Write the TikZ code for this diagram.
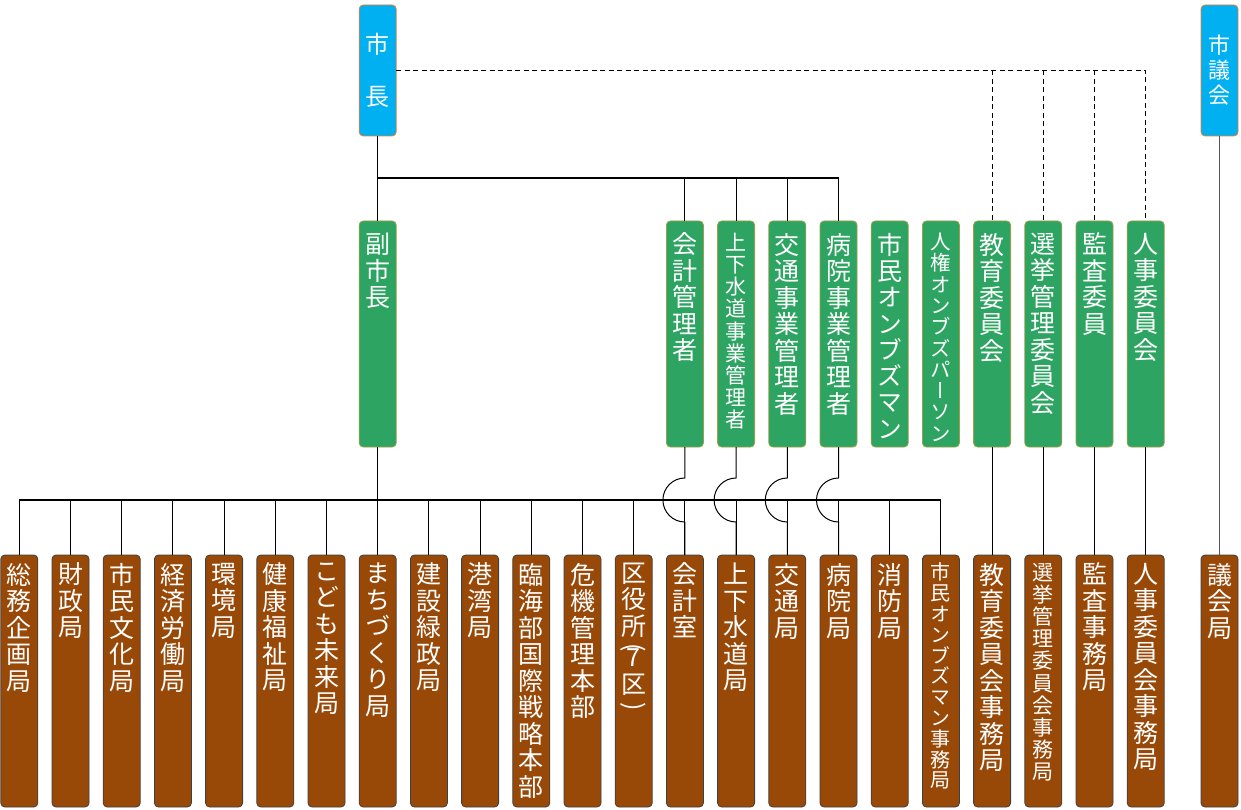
\documentclass[tikz,border=0pt]{standalone}
\usepackage{fontspec}
\usepackage{graphicx}
\setmainfont{Noto Sans CJK JP}[RawFeature=+vert]
\usetikzlibrary{calc}

\definecolor{skyblue}{HTML}{00B0F0}
\definecolor{edgeorange}{HTML}{ED7D31}
\definecolor{officegreen}{HTML}{2EA462}
\definecolor{greenedge}{HTML}{9AA046}
\definecolor{bureaubrown}{HTML}{984807}
\definecolor{bureauedge}{HTML}{404040}
\definecolor{councilgray}{HTML}{555555}

% vertical label: box height, top pad, font size, line pitch, stacked characters
\newcommand\tate[5]{\parbox[c][#1][t]{37pt}{\centering\fontsize{#3}{#4}\selectfont\vspace*{#2}#5\par}}
\newcommand\gtext[3]{\tate{226pt}{12pt}{#1}{#2}{#3}}
\newcommand\btext[3]{\tate{252pt}{8pt}{#1}{#2}{#3}}
\newcommand\ctext[3]{\parbox[c][131pt][c]{37pt}{\centering\fontsize{#1}{#2}\selectfont #3\par}}
\newcommand\vparen[1]{\rotatebox[origin=c]{-90}{#1}}

\tikzset{
  box/.style={inner sep=0pt, outer sep=0pt, rounded corners=4pt, line width=0.8pt, anchor=north, text=white},
  topbox/.style={box, fill=skyblue, draw=edgeorange},
  officer/.style={box, fill=officegreen, draw=greenedge},
  bureau/.style={box, fill=bureaubrown, draw=bureauedge},
  link/.style={line width=1pt, draw=black},
  tree/.style={line width=1.3pt, draw=black},
  busline/.style={line width=1.8pt, draw=black},
  dashlink/.style={line width=1.2pt, draw=black, dash pattern=on 5pt off 3.5pt},
  councillink/.style={line width=1.6pt, draw=councilgray},
}

\begin{document}
\begin{tikzpicture}[x=1pt, y=-1pt]
\useasboundingbox (0,0) rectangle (1241,810);

% top executives
\node[topbox] (mayor)   at (377.7,5) {\ctext{24}{26}{市\\[26pt]長}};
\node[topbox] (council) at (1219.5,5) {\ctext{22}{25}{市\\議\\会}};

% appointed officers and commissions
\node[officer] (vice) at (377.7,221) {\gtext{25}{26.5}{副\\市\\長}};
\node[officer] (g1) at (684.9,221) {\gtext{25}{26.5}{会\\計\\管\\理\\者}};
\node[officer] (g2) at (736.1,221) {\gtext{21}{22.2}{上\\下\\水\\道\\事\\業\\管\\理\\者}};
\node[officer] (g3) at (787.3,221) {\gtext{25}{26.5}{交\\通\\事\\業\\管\\理\\者}};
\node[officer] (g4) at (838.5,221) {\gtext{25}{26.5}{病\\院\\事\\業\\管\\理\\者}};
\node[officer] (g5) at (889.7,221) {\gtext{25}{26.3}{市\\民\\オ\\ン\\ブ\\ズ\\マ\\ン}};
\node[officer] (g6) at (940.9,221) {\gtext{20.5}{21.3}{人\\権\\オ\\ン\\ブ\\ズ\\パ\\ー\\ソ\\ン}};
\node[officer] (g7) at (992.1,221) {\gtext{25}{26.5}{教\\育\\委\\員\\会}};
\node[officer] (g8) at (1043.3,221) {\gtext{25}{26.5}{選\\挙\\管\\理\\委\\員\\会}};
\node[officer] (g9) at (1094.5,221) {\gtext{25}{26.5}{監\\査\\委\\員}};
\node[officer] (g10) at (1145.7,221) {\gtext{25}{26.5}{人\\事\\委\\員\\会}};

% bureaus
\node[bureau] (b1)  at (19.3,555)  {\btext{25}{26.5}{総\\務\\企\\画\\局}};
\node[bureau] (b2)  at (70.5,555)  {\btext{25}{26.5}{財\\政\\局}};
\node[bureau] (b3)  at (121.7,555) {\btext{25}{26.5}{市\\民\\文\\化\\局}};
\node[bureau] (b4)  at (172.9,555) {\btext{25}{26.5}{経\\済\\労\\働\\局}};
\node[bureau] (b5)  at (224.1,555) {\btext{25}{26.5}{環\\境\\局}};
\node[bureau] (b6)  at (275.3,555) {\btext{25}{26.5}{健\\康\\福\\祉\\局}};
\node[bureau] (b7)  at (326.5,555) {\btext{25}{26.5}{こ\\ど\\も\\未\\来\\局}};
\node[bureau] (b8)  at (377.7,555) {\btext{25}{26.5}{ま\\ち\\づ\\く\\り\\局}};
\node[bureau] (b9)  at (428.9,555) {\btext{25}{26.5}{建\\設\\緑\\政\\局}};
\node[bureau] (b10) at (480.1,555) {\btext{25}{26.5}{港\\湾\\局}};
\node[bureau] (b11) at (531.3,555) {\btext{25}{26.5}{臨\\海\\部\\国\\際\\戦\\略\\本\\部}};
\node[bureau] (b12) at (582.5,555) {\btext{25}{26.5}{危\\機\\管\\理\\本\\部}};
\node[bureau] (b13) at (633.7,555) {\btext{25}{26.5}{区\\役\\所\\[-6pt]\vparen{(}\\[-16pt]7\\[1pt]区\\[-6pt]\vparen{)}}};
\node[bureau] (b14) at (684.9,555) {\btext{25}{26.5}{会\\計\\室}};
\node[bureau] (b15) at (736.1,555) {\btext{25}{26.5}{上\\下\\水\\道\\局}};
\node[bureau] (b16) at (787.3,555) {\btext{25}{26.5}{交\\通\\局}};
\node[bureau] (b17) at (838.5,555) {\btext{25}{26.5}{病\\院\\局}};
\node[bureau] (b18) at (889.7,555) {\btext{25}{26.5}{消\\防\\局}};
\node[bureau] (b19) at (940.9,555) {\btext{20}{20.8}{市\\民\\オ\\ン\\ブ\\ズ\\マ\\ン\\事\\務\\局}};
\node[bureau] (b20) at (992.1,555) {\btext{25}{26.5}{教\\育\\委\\員\\会\\事\\務\\局}};
\node[bureau] (b21) at (1043.3,555) {\btext{21}{22.2}{選\\挙\\管\\理\\委\\員\\会\\事\\務\\局}};
\node[bureau] (b22) at (1094.5,555) {\btext{25}{26.5}{監\\査\\事\\務\\局}};
\node[bureau] (b23) at (1145.7,555) {\btext{25}{26.5}{人\\事\\委\\員\\会\\事\\務\\局}};
\node[bureau] (b24) at (1219.5,555) {\btext{25}{26.5}{議\\会\\局}};

% mayor to vice mayor and the four managers
\coordinate (split) at (377.7,178);
\draw[tree] (mayor.south) -- (vice.north);
\draw[tree] (mayor.south |- split) -- (g4.north |- split);
\foreach \n in {g1,g2,g3,g4}
  \draw[link] (\n.north |- split) -- (\n.north);

% dotted relation to the independent commissions
\draw[dashlink] (mayor.east) -| (g10.north);
\foreach \n in {g7,g8,g9}
  \draw[dashlink] (\n.north |- mayor.east) -- (\n.north);

% bureau bus under the vice mayor
\coordinate (bus) at (0,500);
\draw[link] (vice.south) -- (vice.south |- bus);
\foreach \i in {1,...,19}
  \draw[link] (b\i.north |- bus) -- (b\i.north);
\draw[busline] (b1.north |- bus) -- (b19.north |- bus);

% manager lines hopping over the bus
\foreach \g/\b in {g1/b14,g2/b15,g3/b16,g4/b17}
  \draw[link] (\g.south) -- ($(\g.south |- bus)+(0,22pt)$)
    arc[start angle=90, end angle=270, radius=22pt] -- (\b.north);

% commissions to their secretariats
\foreach \g/\b in {g7/b20,g8/b21,g9/b22,g10/b23}
  \draw[link] (\g.south) -- (\b.north);

% council to its secretariat
\draw[councillink] (council.south) -- (b24.north);
\end{tikzpicture}
\end{document}
